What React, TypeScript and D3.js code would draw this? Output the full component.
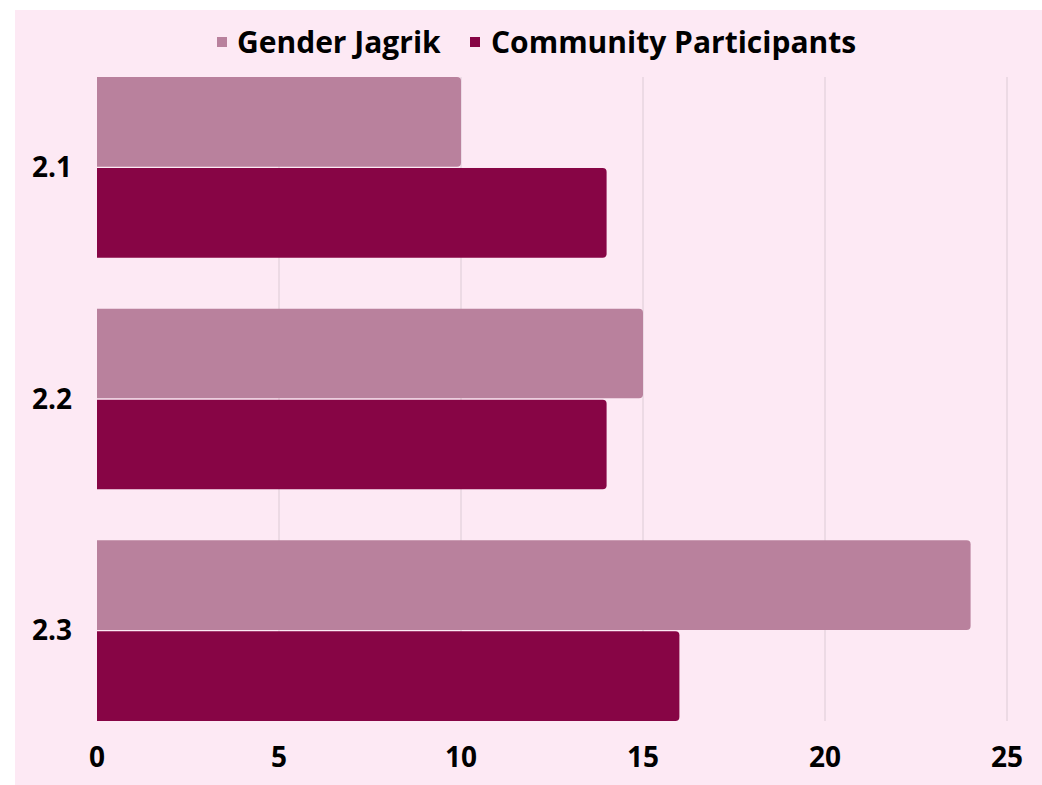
import React from "react";
import * as d3 from "d3";

const categories = ["2.1", "2.2", "2.3"];
const seriesNames = ["Gender Jagrik", "Community Participants"];
const genderJagrik = [10, 15, 24];
const communityParticipants = [14, 14, 16];
const xTicks = [0, 5, 10, 15, 20, 25];
const colors = ["#b9819d", "#870545"];

const W = 1042;
const H = 785;
const plot = { left: 97, right: 1007, top: 77, bottom: 721 };
const font = "'Open Sans', 'Noto Sans', sans-serif";

// rect with rounded right corners only
const barPath = (x0: number, x1: number, y: number, h: number, r: number) => {
  const rr = Math.min(r, (x1 - x0) / 2, h / 2);
  return `M${x0},${y}H${x1 - rr}Q${x1},${y} ${x1},${y + rr}V${y + h - rr}Q${x1},${y + h} ${x1 - rr},${y + h}H${x0}Z`;
};

export default function App() {
  const x = d3.scaleLinear().domain([0, 25]).range([plot.left, plot.right]);
  const y = d3
    .scaleBand<string>()
    .domain(categories)
    .range([plot.top, plot.bottom])
    .paddingInner(0.22)
    .paddingOuter(0);
  const sub = d3
    .scaleBand<string>()
    .domain(seriesNames)
    .range([0, y.bandwidth()])
    .paddingInner(0.015);

  const rows = categories.map((c, i) => ({
    cat: c,
    vals: [genderJagrik[i], communityParticipants[i]],
  }));

  return (
    <svg
      width={W}
      height={H}
      style={{ position: "absolute", left: 0, top: 0 }}
      fontFamily={font}
    >
      <rect x={15} y={10} width={W - 15} height={H - 10} fill="#fde9f4" />

      {/* grid */}
      {xTicks.slice(1).map((t) => (
        <line
          key={t}
          x1={x(t)}
          x2={x(t)}
          y1={plot.top}
          y2={plot.bottom}
          stroke="#dccbd5"
          strokeWidth={1}
        />
      ))}

      {/* bars */}
      {rows.map((r) => (
        <g key={r.cat}>
          {r.vals.map((v, j) => (
            <path
              key={j}
              d={barPath(x(0), x(v), (y(r.cat) ?? 0) + (sub(seriesNames[j]) ?? 0), sub.bandwidth(), 4)}
              fill={colors[j]}
            />
          ))}
          <text
            x={72}
            y={(y(r.cat) ?? 0) + y.bandwidth() / 2}
            dy="0.35em"
            textAnchor="end"
            fontSize={28}
            fontWeight={700}
            fill="#000"
          >
            {r.cat}
          </text>
        </g>
      ))}

      {/* x axis labels */}
      {xTicks.map((t) => (
        <text
          key={t}
          x={x(t)}
          y={767}
          textAnchor="middle"
          fontSize={28}
          fontWeight={700}
          fill="#000"
        >
          {t}
        </text>
      ))}

      {/* legend */}
      <rect x={217} y={37} width={10} height={10} fill={colors[0]} />
      <text x={237} y={53} fontSize={30} fontWeight={700} fill="#000">
        {seriesNames[0]}
      </text>
      <rect x={470} y={37} width={10} height={10} fill={colors[1]} />
      <text x={491} y={53} fontSize={30} fontWeight={700} fill="#000">
        {seriesNames[1]}
      </text>
    </svg>
  );
}
